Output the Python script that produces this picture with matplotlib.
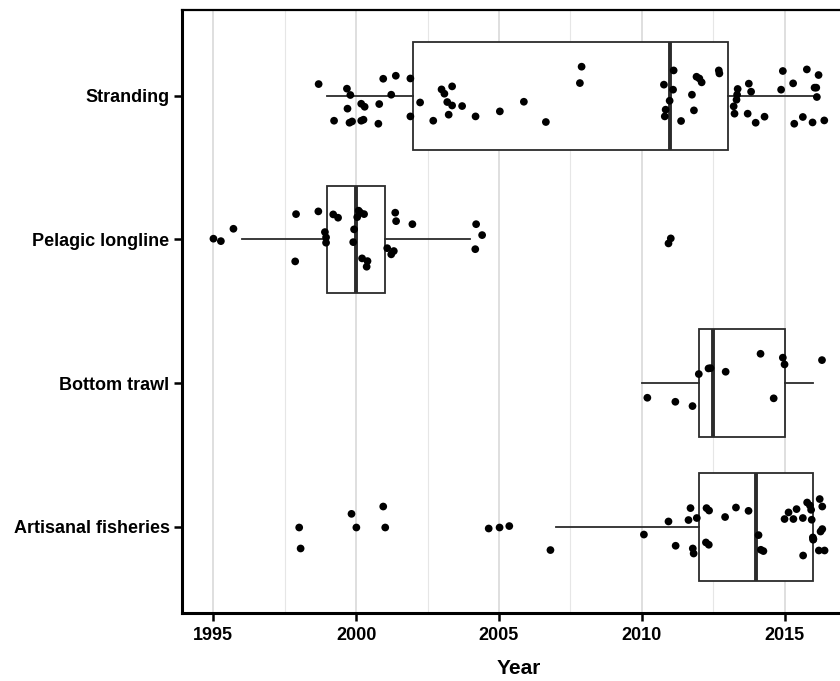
import numpy as np
import matplotlib
matplotlib.use('Agg')
import matplotlib.pyplot as plt
from matplotlib.ticker import MultipleLocator

plt.rcParams['font.family'] = ['Liberation Sans', 'DejaVu Sans']
plt.rcParams['font.weight'] = 'bold'

# categories, top to bottom
cats = ['Stranding', 'Pelagic longline', 'Bottom trawl', 'Artisanal fisheries']
cat_pos = [3, 2, 1, 0]

# box statistics (years)
whislo = [1999, 1996, 2010, 2007]
q1 = [2002, 1999, 2012, 2012]
med = [2011, 2000, 2012.5, 2014]
q3 = [2013, 2001, 2015, 2016]
whishi = [2016, 2004, 2016, 2016]

# jittered points: year and vertical offset (category units)
strand_x = [1998.69, 1999.68, 1999.80, 1999.70, 1999.23, 1999.77, 1999.86, 2000.18,
            2000.26, 2000.18, 2000.30, 2000.81, 2000.78, 2000.95, 2001.39, 2001.23,
            2001.90, 2001.90, 2002.24, 2002.70, 2002.99, 2003.09, 2003.36, 2003.19,
            2003.36, 2003.24, 2003.71, 2004.18, 2005.03, 2005.87, 2006.64, 2007.89,
            2007.83, 2010.77, 2011.11, 2011.09, 2010.97, 2010.83, 2010.80, 2011.37,
            2011.75, 2011.82, 2011.91, 2012.01, 2012.09, 2012.69, 2012.71, 2013.35,
            2013.33, 2013.31, 2013.21, 2013.24, 2013.74, 2013.82, 2013.70, 2013.98,
            2014.29, 2014.93, 2014.87, 2015.29, 2015.77, 2016.18, 2016.04, 2016.10,
            2016.12, 2015.33, 2015.63, 2015.97, 2016.38]
strand_dy = [0.081, 0.049, 0.005, -0.090, -0.174, -0.188, -0.179, -0.174,
             -0.167, -0.056, -0.077, -0.058, -0.195, 0.118, 0.139, 0.007,
             0.120, -0.144, -0.047, -0.174, 0.044, 0.014, 0.065, -0.044,
             -0.068, -0.132, -0.072, -0.144, -0.109, -0.042, -0.183, 0.202,
             0.088, 0.077, 0.176, 0.042, -0.035, -0.097, -0.144, -0.176,
             0.007, -0.102, 0.132, 0.120, 0.093, 0.176, 0.155, 0.047,
             0.007, -0.028, -0.074, -0.125, 0.084, 0.028, -0.125, -0.188,
             -0.146, 0.172, 0.042, 0.086, 0.183, 0.144, 0.056, 0.056,
             -0.009, -0.195, -0.148, -0.186, -0.172]

pelagic_x = [1995.01, 1995.27, 1995.71, 1997.90, 1997.87, 1998.68, 1999.20, 1999.37,
             1998.91, 1998.95, 1998.95, 2000.09, 2000.15, 2000.28, 2000.04, 1999.93,
             1999.90, 2000.21, 2000.40, 2000.37, 2001.37, 2001.40, 2001.97, 2001.09,
             2001.23, 2001.32, 2004.20, 2004.41, 2004.17, 2011.01, 2010.93]
pelagic_dy = [0.005, -0.012, 0.074, 0.176, -0.153, 0.195, 0.174, 0.151,
              0.051, 0.014, -0.023, 0.200, 0.186, 0.176, 0.155, 0.070,
              -0.019, -0.132, -0.151, -0.190, 0.186, 0.127, 0.106, -0.061,
              -0.104, -0.081, 0.106, 0.030, -0.068, 0.007, -0.028]

trawl_x = [2010.19, 2011.17, 2011.77, 2011.99, 2012.33, 2012.40, 2012.93, 2014.15,
           2014.93, 2014.99, 2014.61, 2016.30]
trawl_dy = [-0.102, -0.130, -0.160, 0.063, 0.102, 0.104, 0.079, 0.204,
            0.177, 0.130, -0.106, 0.160]

artisanal_x = [1998.01, 1998.06, 1999.84, 2000.01, 2000.95, 2001.02, 2004.64, 2005.02,
               2005.36, 2006.80, 2010.07, 2010.93, 2011.18, 2011.63, 2011.70, 2011.92,
               2011.78, 2011.81, 2012.26, 2012.35, 2012.24, 2012.34, 2012.91, 2013.29,
               2013.73, 2014.08, 2014.16, 2014.25, 2014.99, 2015.13, 2015.30, 2015.41,
               2015.63, 2015.78, 2015.88, 2015.92, 2015.94, 2016.22, 2016.31, 2016.31,
               2016.25, 2015.98, 2015.99, 2016.00, 2015.64, 2016.19, 2016.39]
artisanal_dy = [-0.005, -0.151, 0.090, -0.005, 0.141, -0.005, -0.012, -0.005,
                0.005, -0.162, -0.054, 0.037, -0.132, 0.047, 0.130, 0.061,
                -0.151, -0.186, 0.130, 0.113, -0.109, -0.125, 0.068, 0.134,
                0.111, -0.058, -0.160, -0.169, 0.054, 0.100, 0.054, 0.123,
                0.061, 0.169, 0.148, 0.118, 0.049, 0.193, 0.141, -0.016,
                -0.033, -0.074, -0.090, -0.086, -0.200, -0.165, -0.165]

xs_all = [strand_x, pelagic_x, trawl_x, artisanal_x]
dys_all = [strand_dy, pelagic_dy, trawl_dy, artisanal_dy]

fig = plt.figure(figsize=(8.4, 6.81), dpi=100)
ax = fig.add_axes([182/840, 68/681, 1 - 182/840, (613 - 9.5)/681])

stats = []
for i in range(len(cats)):
    stats.append(dict(whislo=whislo[i], q1=q1[i], med=med[i], q3=q3[i],
                      whishi=whishi[i], fliers=[]))
ax.bxp(stats, positions=cat_pos, widths=0.75, vert=False, patch_artist=True,
       showcaps=False, showfliers=False,
       boxprops=dict(facecolor='white', edgecolor='#2b2b2b', linewidth=1.3),
       whiskerprops=dict(color='#2b2b2b', linewidth=1.3),
       medianprops=dict(color='#2b2b2b', linewidth=2.8), zorder=2)

for xs, dys, p in zip(xs_all, dys_all, cat_pos):
    ax.scatter(xs, p + np.array(dys), s=31, color='black', edgecolors='none', zorder=3)

ax.set_xlim(1993.91, 2016.93)
ax.set_ylim(-0.6, 3.6)
ax.set_yticks(cat_pos)
ax.set_yticklabels(cats)
ax.xaxis.set_major_locator(MultipleLocator(5))
ax.xaxis.set_minor_locator(MultipleLocator(2.5))
ax.grid(which='major', axis='x', color='#d6d6d6', linewidth=1.1, zorder=0)
ax.grid(which='minor', axis='x', color='#e6e6e6', linewidth=0.8, zorder=0)
ax.grid(which='both', axis='y', visible=False)
ax.set_axisbelow(True)
ax.tick_params(axis='both', which='major', length=6, width=1.8, labelsize=13, pad=3,
               colors='black')
ax.tick_params(axis='x', which='major', pad=4)
ax.tick_params(axis='x', which='minor', length=0)
for lab in ax.get_xticklabels() + ax.get_yticklabels():
    lab.set_fontweight('bold')

ax.spines['right'].set_visible(False)
ax.spines['left'].set_linewidth(2.2)
ax.spines['bottom'].set_linewidth(2.2)
ax.spines['top'].set_linewidth(1.6)

ax.set_xlabel('Year', fontsize=15, fontweight='bold')
ax.xaxis.set_label_coords((519 - 182)/(840 - 182), -0.077)

fig.savefig('out.png', dpi=100)
